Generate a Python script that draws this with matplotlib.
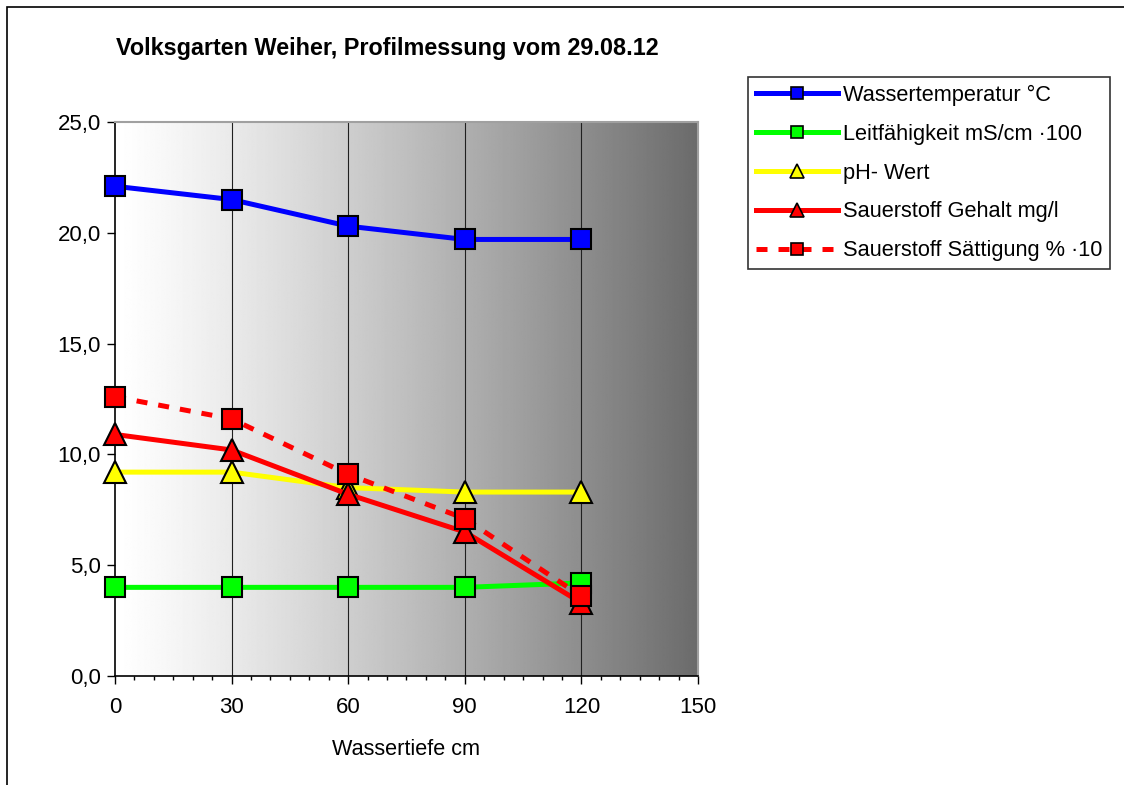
import numpy as np
import matplotlib.pyplot as plt
from matplotlib.lines import Line2D

plt.rcParams['font.family'] = ['Liberation Sans', 'DejaVu Sans']

tiefe = [0, 30, 60, 90, 120]
wassertemp = [22.1, 21.5, 20.3, 19.7, 19.7]
leitfaehigkeit = [4.0, 4.0, 4.0, 4.0, 4.2]
ph_wert = [9.2, 9.2, 8.5, 8.3, 8.3]
o2_gehalt = [10.9, 10.2, 8.2, 6.5, 3.3]
o2_saettigung = [12.6, 11.6, 9.1, 7.1, 3.6]

labels = ["Wassertemperatur °C", "Leitfähigkeit mS/cm \u00b7100", "pH- Wert",
          "Sauerstoff Gehalt mg/l", "Sauerstoff Sättigung % \u00b710"]

fig = plt.figure(figsize=(11.24, 7.85), dpi=100)
# outer border of chart
fig.patches.append(plt.Rectangle((7 / 1124, -0.1), 1.2, 1 - 7 / 785 + 0.1,
                                 transform=fig.transFigure, fill=False,
                                 edgecolor='black', linewidth=1.2))

ax = fig.add_axes([115 / 1124, 1 - 676 / 785, 583 / 1124, 554 / 785])

# grey gradient background
t = np.linspace(0, 1, 512)
g = 1 - (1 - 0.42) * t ** 1.2
ax.imshow(np.tile(g, (2, 1)), cmap='gray', vmin=0, vmax=1, aspect='auto',
          extent=[0, 150, 0, 25], zorder=0, interpolation='bilinear')

for xv in [30, 60, 90, 120]:
    ax.axvline(xv, color='#202020', linewidth=0.8, zorder=1)

ms_sq = 14
ms_tri = 16
kw = dict(linewidth=3.6, markeredgecolor='black', markeredgewidth=1.5, clip_on=False)
ax.plot(tiefe, wassertemp, color='#0000ff', marker='s', markersize=ms_sq,
        markerfacecolor='#0000ff', zorder=3, **kw)
ax.plot(tiefe, leitfaehigkeit, color='#00ff00', marker='s', markersize=ms_sq,
        markerfacecolor='#00ff00', zorder=3, **kw)
ax.plot(tiefe, ph_wert, color='#ffff00', marker='^', markersize=ms_tri,
        markerfacecolor='#ffff00', zorder=3, **kw)
ax.plot(tiefe, o2_gehalt, color='#ff0000', marker='^', markersize=ms_tri,
        markerfacecolor='#ff0000', zorder=4, **kw)
ax.plot(tiefe, o2_saettigung, color='#ff0000', linestyle=(0, (2.2, 2.2)),
        marker='s', markersize=ms_sq, markerfacecolor='#ff0000', zorder=5, **kw)

ax.set_xlim(0, 150)
ax.set_ylim(0, 25)
ax.set_xticks([0, 30, 60, 90, 120, 150])
ax.set_xticks(np.arange(0, 151, 5), minor=True)
ax.set_yticks([0, 5, 10, 15, 20, 25])
ax.set_yticklabels(["0,0", "5,0", "10,0", "15,0", "20,0", "25,0"])
ax.tick_params(axis='both', which='major', direction='out', length=6, width=1,
               labelsize=16, pad=4)
ax.tick_params(axis='x', which='minor', direction='out', length=3, width=1)
ax.tick_params(axis='x', which='major', pad=9)
for s in ['top', 'right']:
    ax.spines[s].set_color('#a0a0a0')
    ax.spines[s].set_linewidth(1.5)
for s in ['left', 'bottom']:
    ax.spines[s].set_color('black')
    ax.spines[s].set_linewidth(1.2)

ax.set_xlabel("Wassertiefe cm", fontsize=15.6, labelpad=15)
fig.text(387 / 1124, 1 - 48 / 785, "Volksgarten Weiher, Profilmessung vom 29.08.12",
         ha='center', va='center', fontsize=16.8, fontweight='bold')

handles = [
    Line2D([], [], color='#0000ff', linewidth=3.6, marker='s', markersize=9,
           markerfacecolor='#0000ff', markeredgecolor='black', markeredgewidth=1.2),
    Line2D([], [], color='#00ff00', linewidth=3.6, marker='s', markersize=9,
           markerfacecolor='#00ff00', markeredgecolor='black', markeredgewidth=1.2),
    Line2D([], [], color='#ffff00', linewidth=3.6, marker='^', markersize=10,
           markerfacecolor='#ffff00', markeredgecolor='black', markeredgewidth=1.2),
    Line2D([], [], color='#ff0000', linewidth=3.6, marker='^', markersize=10,
           markerfacecolor='#ff0000', markeredgecolor='black', markeredgewidth=1.2),
    Line2D([], [], color='#ff0000', linewidth=3.6, linestyle=(0, (2.2, 2.2)), marker='s',
           markersize=9, markerfacecolor='#ff0000', markeredgecolor='black',
           markeredgewidth=1.2),
]
leg = fig.legend(handles, labels, loc='upper left',
                 bbox_to_anchor=(748 / 1124, 1 - 77 / 785), fontsize=15.7,
                 frameon=True, fancybox=False, edgecolor='black', handlelength=3.8,
                 handletextpad=0.2, labelspacing=0.82, borderpad=0.35,
                 borderaxespad=0)
leg.get_frame().set_linewidth(1.2)

fig.savefig("out.png", dpi=100)
